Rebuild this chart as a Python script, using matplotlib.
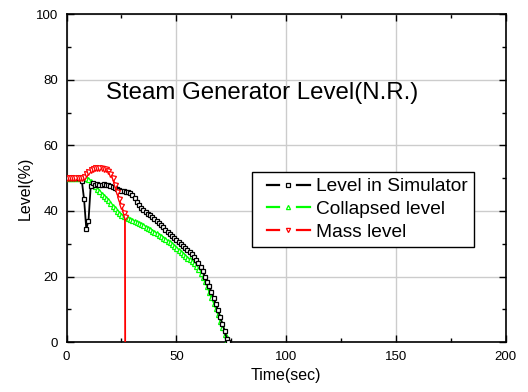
import numpy as np
import matplotlib

matplotlib.use("Agg")

import matplotlib.pyplot as plt
from matplotlib.lines import Line2D
from matplotlib.legend_handler import HandlerBase
from matplotlib.ticker import MultipleLocator

plt.rcParams["font.family"] = ["Liberation Sans", "DejaVu Sans"]

# Level in Simulator
sim_t = [0, 1, 2, 3, 4, 5, 6, 7, 8, 9, 10, 11, 12, 13, 14, 15, 16, 17, 18, 19,
         20, 21, 22, 23, 24, 25, 26, 27, 28, 29, 30, 31, 32, 33, 34, 35, 36, 37,
         38, 39, 40, 41, 42, 43, 44, 45, 46, 47, 48, 49, 50, 51, 52, 53, 54, 55,
         56, 57, 58, 59, 60, 61, 62, 63, 64, 65, 66, 67, 68, 69, 70, 71, 72, 73,
         73.5]
sim_lv = [50, 50, 50, 50, 50, 50, 50, 49, 43.5, 34.5, 37, 47.5, 48.5, 48, 48.3,
          48, 48, 48.3, 48, 47.8, 47.5, 47.2, 47, 46.6, 46.4, 46.2, 46, 45.9,
          45.8, 45.6, 45, 44, 42.8, 41.8, 41, 40.3, 39.7, 39.2, 38.7, 38.3, 37.6,
          37, 36.3, 35.6, 35, 34.2, 33.5, 32.9, 32.3, 31.8, 31.2, 30.6, 30, 29.4,
          28.8, 28.2, 27.5, 26.8, 26, 25.2, 24.2, 23, 21.6, 20, 18.5, 17, 15.3,
          13.5, 11.6, 9.7, 7.6, 5.5, 3.3, 1.0, 0]

# Collapsed level
col_t = [0, 1, 2, 3, 4, 5, 6, 7, 8, 9, 10, 11, 12, 13, 14, 15, 16, 17, 18, 19,
         20, 21, 22, 23, 24, 25, 26, 27, 28, 29, 30, 31, 32, 33, 34, 35, 36, 37,
         38, 39, 40, 41, 42, 43, 44, 45, 46, 47, 48, 49, 50, 51, 52, 53, 54, 55,
         56, 57, 58, 59, 60, 61, 62, 63, 64, 65, 66, 67, 68, 69, 70, 71, 72, 72.8]
col_lv = [50, 50, 50, 50, 50, 50, 50, 50, 50, 50, 49.8, 49.2, 48.4, 47.6, 46.8,
          46, 45.2, 44.5, 43.9, 43.2, 42.4, 41.6, 40.8, 40, 39.4, 38.9, 38.6,
          38.2, 37.8, 37.5, 37.2, 36.9, 36.6, 36.3, 36, 35.6, 35.2, 34.8, 34.4,
          34, 33.6, 33.2, 32.8, 32.4, 31.9, 31.4, 30.9, 30.4, 29.9, 29.3, 28.8,
          28.2, 27.6, 27, 26.4, 25.8, 25.3, 24.8, 24.2, 23.3, 22.3, 21.2, 20,
          18.6, 17.1, 15.4, 13.7, 12, 10.3, 8.5, 6.6, 4.6, 2.5, 0]

# Mass level
mass_t = [0, 1, 2, 3, 4, 5, 6, 7, 8, 9, 10, 11, 12, 13, 14, 15, 16, 17, 18, 19,
          20, 21, 22, 23, 24, 25, 26, 26.6, 26.7]
mass_lv = [50, 50, 50, 50, 50, 50, 50, 50, 50.5, 51.2, 51.8, 52.4, 52.8, 53, 53,
           53, 53, 52.9, 52.7, 52.2, 51.3, 50, 48, 45.8, 43.5, 41.5, 39.5, 38.3,
           0]

series = [
    (sim_t, sim_lv, "black", "s", 3.2, "Level in Simulator"),
    (col_t, col_lv, "#00ff00", "^", 3.6, "Collapsed level"),
    (mass_t, mass_lv, "red", "v", 3.6, "Mass level"),
]


class GapHandler(HandlerBase):
    """Legend handle drawn as  — marker —  with a gap around the marker."""

    def create_artists(self, legend, orig, xdescent, ydescent, width, height,
                       fontsize, trans):
        c = orig.get_color()
        y = height / 2 - ydescent
        x0 = -xdescent
        fx = lambda f: x0 + f * width
        l1 = Line2D([fx(0.17), fx(0.40)], [y, y], color=c, lw=1.6)
        l2 = Line2D([fx(0.74), fx(1.0)], [y, y], color=c, lw=1.6)
        mk = Line2D([fx(0.585)], [y], lw=0, marker=orig.get_marker(), ms=3.0,
                    mfc="white", mec=c, mew=0.9)
        arts = [l1, l2, mk]
        for a in arts:
            a.set_transform(trans)
        return arts


fig = plt.figure(figsize=(5.28, 3.92), dpi=100)
ax = fig.add_axes([0.126, 0.127, 0.832, 0.837])

lines = []
for i, (t, lv, c, m, ms, lab) in enumerate(series):
    every = list(range(len(t) - 1)) if lab == "Mass level" else None
    ln, = ax.plot(t, lv, color=c, lw=1.3, marker=m, ms=ms, mfc="white", mec=c,
                  mew=0.9, markevery=every, label=lab,
                  zorder=5 - i if lab != "Mass level" else 5)
    lines.append(ln)

ax.set_xlim(0, 200)
ax.set_ylim(0, 100)
ax.xaxis.set_major_locator(MultipleLocator(50))
ax.xaxis.set_minor_locator(MultipleLocator(25))
ax.yaxis.set_major_locator(MultipleLocator(20))
ax.yaxis.set_minor_locator(MultipleLocator(10))
ax.tick_params(which="both", direction="in", top=True, right=True,
               labelsize=9.5, width=1.0)
ax.tick_params(which="major", length=5, pad=6)
ax.tick_params(which="minor", length=3)
ax.grid(True, which="major", color="#cccccc", lw=1.0, zorder=0)
for s in ax.spines.values():
    s.set_linewidth(1.2)

ax.set_xlabel("Time(sec)", fontsize=11.5, labelpad=4)
ax.set_ylabel("Level(%)", fontsize=11.5)
ax.yaxis.set_label_coords(-0.077, 0.47)

ax.text(89, 76, "Steam Generator Level(N.R.)", fontsize=17.3,
        ha="center", va="center")

ax.legend(handles=lines, handler_map={Line2D: GapHandler()},
          loc="upper left", bbox_to_anchor=(0.422, 0.518), fontsize=13.8,
          frameon=True, fancybox=False, edgecolor="black", framealpha=1,
          handlelength=2.75, handletextpad=0.3, borderpad=0.3,
          labelspacing=0.28, borderaxespad=0)

fig.savefig("out.png", dpi=100, facecolor="white")
